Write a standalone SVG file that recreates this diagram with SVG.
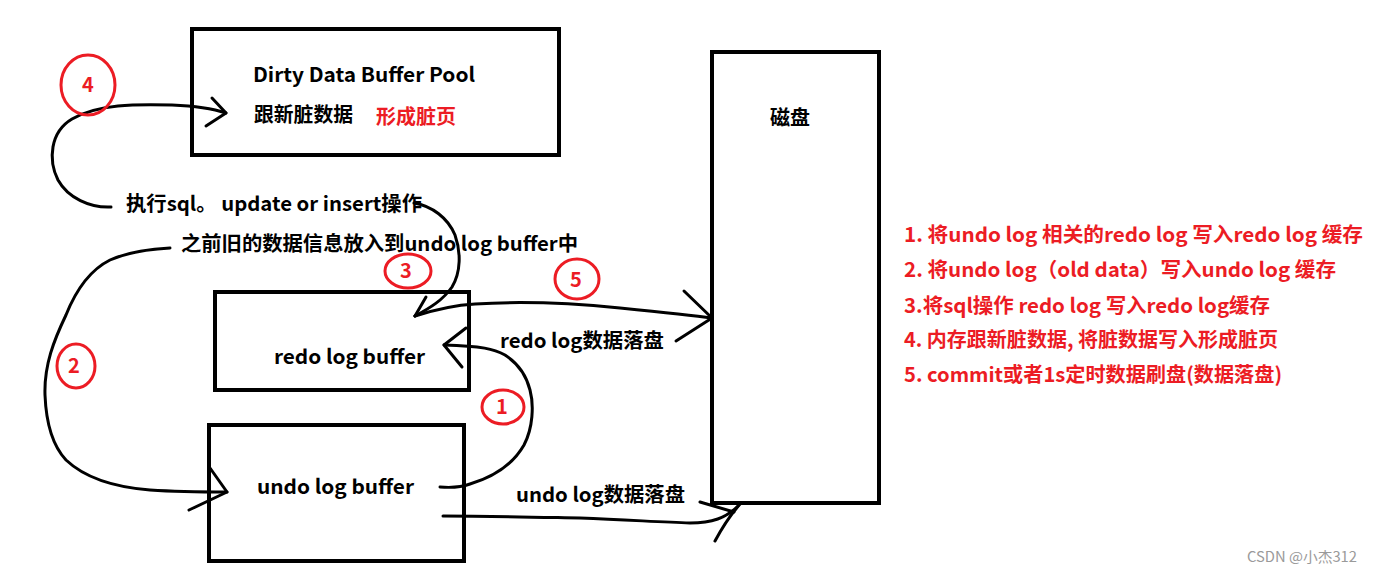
<svg xmlns="http://www.w3.org/2000/svg" width="1373" height="574" viewBox="0 0 1373 574">
<style>
.box{fill:none;stroke:#000;stroke-width:4}
.ln{fill:none;stroke:#000;stroke-width:3;stroke-linecap:round;stroke-linejoin:round}
.circ{fill:none;stroke:#ec1c24;stroke-width:3}
.t{font-family:"Noto Sans CJK SC","Liberation Sans",sans-serif;font-weight:bold;font-size:20px;fill:#000}
.r{fill:#ec1c24}
.n{font-family:"Noto Sans CJK SC","Liberation Sans",sans-serif;font-weight:bold;font-size:20px;fill:#ec1c24;text-anchor:middle}
.wm{font-family:"Noto Sans CJK SC","Liberation Sans",sans-serif;font-size:14px;fill:#9a9a9a}
</style>
<rect width="1373" height="574" fill="#fff"/>
<g id="connectors">
  <path class="ln" d="M111,207 C90,208 68,198 58,180 C48,160 50,132 72,119 C98,104 135,104 172,105 C196,106 214,109 226,113"/>
  <path class="ln" d="M212,98 L226,113 L206,126"/>
  <path class="ln" d="M414,203 C432,206 448,218 455,235 C461,252 461,272 452,287 C443,300 430,308 415,316"/>
  <path class="ln" d="M426,297 L415,316"/>
  <path class="ln" d="M415,316 C440,308 458,305 475,304 C520,301 570,303 620,308 C660,312 690,315 712,318"/>
  <path class="ln" d="M684,291 L712,318 L676,341"/>
  <path class="ln" d="M170,248 C150,249 128,252 110,260 C90,270 76,290 66,315 C54,340 44,365 45,395 C46,420 52,445 66,460 C84,477 112,487 150,490 C180,492 205,492 227,492"/>
  <path class="ln" d="M210,468 L227,492 L189,510"/>
  <path class="ln" d="M440,487 C452,488 462,487 470,484 C490,478 512,466 524,445 C533,428 534,405 530,390 C526,374 516,362 505,355 C494,349 482,346 444,345"/>
  <path class="ln" d="M466,328 L444,345 L462,367"/>
  <path class="ln" d="M443,516 C490,516 530,517 580,518 C630,520 660,522 690,523 C712,523 726,518 738,506"/>
  <path class="ln" d="M700,502 L734,512"/>
  <path class="ln" d="M715,541 C722,528 730,515 741,503"/>
</g>
<g id="dirty-pool">
  <rect class="box" x="192" y="29" width="367" height="126"/>
  <text class="t" x="253" y="82" font-size="21" textLength="222" lengthAdjust="spacingAndGlyphs">Dirty Data Buffer Pool</text>
  <text class="t" x="254" y="122" textLength="99" lengthAdjust="spacingAndGlyphs">跟新脏数据</text>
  <text class="t r" x="376" y="124" textLength="80" lengthAdjust="spacingAndGlyphs">形成脏页</text>
</g>
<g id="disk">
  <rect class="box" x="712" y="52" width="167" height="451"/>
  <text class="t" x="770" y="125" textLength="40" lengthAdjust="spacingAndGlyphs">磁盘</text>
</g>
<g id="redo-buffer">
  <rect class="box" x="215" y="292" width="254" height="98"/>
  <text class="t" x="274" y="364" textLength="151" lengthAdjust="spacingAndGlyphs">redo log buffer</text>
</g>
<g id="undo-buffer">
  <rect class="box" x="209" y="425" width="255" height="136"/>
  <text class="t" x="257" y="494" textLength="157" lengthAdjust="spacingAndGlyphs">undo log buffer</text>
</g>
<g id="labels">
  <text class="t" x="126" y="211" textLength="296" lengthAdjust="spacingAndGlyphs">执行sql。 update or insert操作</text>
  <text class="t" x="181" y="251" textLength="397" lengthAdjust="spacingAndGlyphs">之前旧的数据信息放入到undo log buffer中</text>
  <text class="t" x="500" y="348" textLength="164" lengthAdjust="spacingAndGlyphs">redo log数据落盘</text>
  <text class="t" x="516" y="502" textLength="169" lengthAdjust="spacingAndGlyphs">undo log数据落盘</text>
</g>
<g id="step-markers">
  <ellipse class="circ" cx="88" cy="85" rx="27" ry="30"/>
  <text class="n" x="88" y="92">4</text>
  <ellipse class="circ" cx="408" cy="271" rx="23" ry="17"/>
  <text class="n" x="406" y="278" font-size="18">3</text>
  <ellipse class="circ" cx="577" cy="279" rx="22" ry="20"/>
  <text class="n" x="576" y="287">5</text>
  <ellipse class="circ" cx="76" cy="366" rx="19" ry="22"/>
  <text class="n" x="74" y="373">2</text>
  <ellipse class="circ" cx="503" cy="407" rx="21" ry="17"/>
  <text class="n" x="502" y="414">1</text>
</g>
<g id="legend">
  <text class="t r" x="904" y="242" font-size="19" textLength="459" lengthAdjust="spacingAndGlyphs">1. 将undo log 相关的redo log 写入redo log 缓存</text>
  <text class="t r" x="904" y="277" font-size="19" textLength="432" lengthAdjust="spacingAndGlyphs">2. 将undo log（old data）写入undo log 缓存</text>
  <text class="t r" x="904" y="313" font-size="19" textLength="366" lengthAdjust="spacingAndGlyphs">3.将sql操作 redo log 写入redo log缓存</text>
  <text class="t r" x="904" y="347" font-size="19" textLength="374" lengthAdjust="spacingAndGlyphs">4. 内存跟新脏数据, 将脏数据写入形成脏页</text>
  <text class="t r" x="904" y="382" font-size="19" textLength="378" lengthAdjust="spacingAndGlyphs">5. commit或者1s定时数据刷盘(数据落盘)</text>
</g>
<text class="wm" x="1247" y="562" textLength="110" lengthAdjust="spacingAndGlyphs">CSDN @小杰312</text>
</svg>
